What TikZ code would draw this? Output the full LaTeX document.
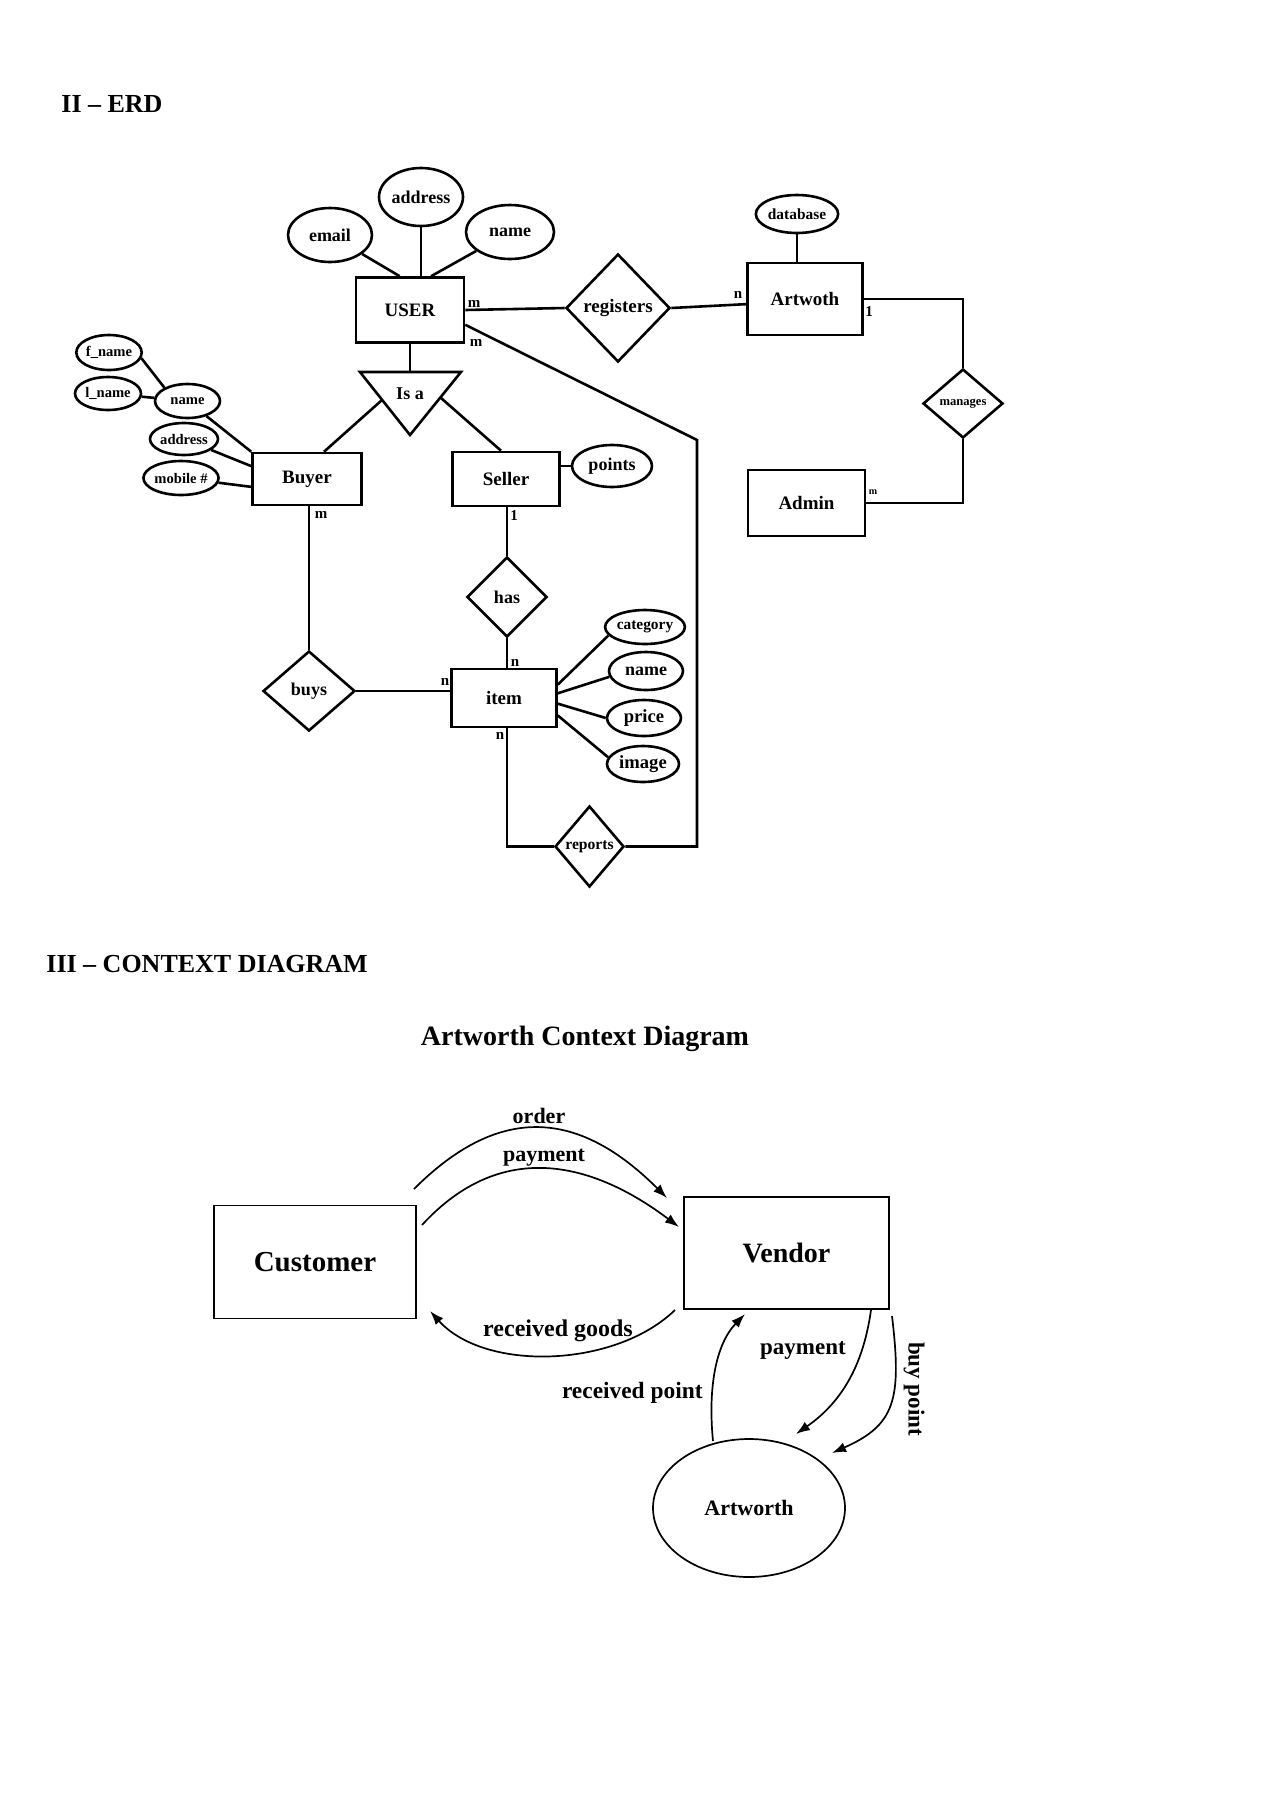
\documentclass[tikz,border=0pt]{standalone}
\usepackage{fontspec}
\setmainfont{Liberation Serif}
\usetikzlibrary{shapes.geometric,arrows.meta,calc}
\newcommand{\myfs}[1]{\fontsize{#1}{#1}\selectfont\bfseries}
\begin{document}
\begin{tikzpicture}[x=0.5pt,y=-0.5pt,
  erd/.style={line width=1.3pt},
  ent/.style={draw, erd, rectangle, inner sep=0pt, font={\myfs{9.5}}},
  attr/.style={draw, erd, ellipse, inner sep=0pt},
  rel/.style={draw, erd, diamond, inner sep=0pt},
  card/.style={inner sep=0pt, font={\myfs{7.5}}},
  ctx/.style={line width=0.85pt},
  flow/.style={ctx, -{Latex[length=7pt,width=5pt]}},
  lbl/.style={inner sep=0pt},
]
\useasboundingbox (0,0) rectangle (1272,1800);

% headings
\node[lbl, anchor=west, font={\myfs{13}}] (h1) at (61,104) {II – ERD};
\node[lbl, anchor=west, font={\myfs{13}}] (h2) at (46,964) {III – CONTEXT DIAGRAM};
\node[lbl, font={\myfs{14}}] (h3) at (585,1039) {Artworth Context Diagram};

% ---------------- ERD ----------------
\node[ent, minimum width=54pt, minimum height=32.5pt] (USER) at (410,310) {USER};
\node[attr, minimum width=42pt, minimum height=27pt, font={\myfs{9}}] (email) at (330,235) {email};
\node[attr, minimum width=42pt, minimum height=29pt, font={\myfs{9}}] (uaddr) at (421,197) {address};
\node[attr, minimum width=44pt, minimum height=27pt, font={\myfs{9}}] (uname) at (510,232) {name};

\coordinate (isaA) at (360,372);
\coordinate (isaB) at (461,372);
\coordinate (isaC) at (410,435);
\coordinate (isaTop) at (410,372);
\coordinate (isaL) at (382,400);
\coordinate (isaR) at (441,398);
\draw[erd] (isaA) -- (isaB) -- (isaC) -- cycle;
\node[lbl, font={\myfs{9}}] (isa) at (410,394) {Is a};

\node[ent, minimum width=54.5pt, minimum height=26pt] (Buyer) at (307,479) {Buyer};
\node[ent, minimum width=53.5pt, minimum height=27pt] (Seller) at (506,479) {Seller};
\node[attr, minimum width=40pt, minimum height=21pt, font={\myfs{9}}] (points) at (612,466) {points};

\node[attr, minimum width=31pt, minimum height=17.5pt, font={\myfs{7.3}}] (fname) at (109,352.5) {f\_name};
\node[attr, minimum width=33pt, minimum height=16.5pt, font={\myfs{7.3}}] (lname) at (108,393.5) {l\_name};
\node[attr, minimum width=32.5pt, minimum height=17pt, font={\myfs{7.3}}] (bname) at (187.5,401) {name};
\node[attr, minimum width=34pt, minimum height=16pt, font={\myfs{7.3}}] (baddr) at (184,439) {address};
\node[attr, minimum width=34pt, minimum height=17pt, font={\myfs{7.3}}] (mobile) at (181,478) {mobile \#};

\node[rel, minimum width=52pt, minimum height=54pt, font={\myfs{9.5}}] (registers) at (618,308) {registers};
\node[rel, minimum width=40pt, minimum height=40pt, font={\myfs{9}}] (has) at (507,597) {has};
\node[rel, minimum width=46pt, minimum height=40pt, font={\myfs{9}}] (buys) at (309,691) {buys};
\node[rel, minimum width=34.5pt, minimum height=40.5pt, font={\myfs{7.8}}] (reports) at (589.5,846.5) {reports};
\node[rel, minimum width=40pt, minimum height=34.5pt, font={\myfs{6.3}}] (manages) at (963,403.5) {manages};

\node[ent, minimum width=52.5pt, minimum height=29pt] (item) at (504,698) {item};
\node[attr, minimum width=35pt, minimum height=17pt, font={\myfs{7.7}}] (category) at (645,627) {category};
\node[attr, minimum width=37pt, minimum height=19pt, font={\myfs{9}}] (iname) at (646,671) {name};
\node[attr, minimum width=37pt, minimum height=18pt, font={\myfs{9.3}}] (price) at (644,718) {price};
\node[attr, minimum width=36pt, minimum height=18pt, font={\myfs{9.3}}] (image) at (643,764) {image};

\node[ent, minimum width=57.5pt, minimum height=36pt] (Artwoth) at (805,299) {Artwoth};
\node[attr, minimum width=40pt, minimum height=19pt, font={\myfs{7.7}}] (database) at (797,214) {database};
\node[ent, minimum width=58.5pt, minimum height=33pt] (Admin) at (806.5,503) {Admin};

\coordinate (bend) at (697,440);

% ERD connectors
\draw[erd] (email) -- (USER.107);
\draw[erd] (uaddr) -- (uaddr |- USER.north);
\draw[erd] (uname) -- (USER.58);
\draw[erd] (USER.east) -- (registers.west);
\draw[erd] (registers.east) -- (Artwoth.185);
\draw[erd] (database) -- (database |- Artwoth.north);
\draw[erd] (Artwoth.east) -- (Artwoth.east -| manages.north) -- (manages.north);
\draw[erd] (manages.south) -- (manages.south |- Admin.east) -- (Admin.east);
\draw[erd] (USER.south) -- (isaTop);
\draw[erd] (isaL) -- (Buyer.58);
\draw[erd] (isaR) -- (Seller.100);
\draw[erd] (Seller.east |- points.west) -- (points.west);
\draw[erd] (fname.-10) -- (bname.150);
\draw[erd] (lname) -- (bname);
\draw[erd] (bname) -- (Buyer.north west);
\draw[erd] (baddr) -- (Buyer.167);
\draw[erd] (mobile) -- (Buyer.188);
\draw[erd] (Buyer.south -| buys.north) -- (buys.north);
\draw[erd] (Seller.south -| has.north) -- (has.north);
\draw[erd] (has.south) -- (has.south |- item.north);
\draw[erd] (buys.east) -- (buys.east -| item.west);
\draw[erd] (item.14) -- (category.193);
\draw[erd] (item.5) -- (iname.189);
\draw[erd] (item.-6) -- (price.180);
\draw[erd] (item.-18) -- (image.169);
\draw[erd] (has.south |- item.south) -- (has.south |- reports.west) -- (reports.west);
\draw[erd] (USER.-15) -- (bend) -- (bend |- reports.east) -- (reports.east);

% cardinalities
\node[card] (c1) at (474,304) {m};
\node[card] (c2) at (476,343) {m};
\node[card] (c3) at (738,295) {n};
\node[card] (c4) at (869,312) {1};
\node[card, font={\myfs{5}}] (c5) at (873,492) {m};
\node[card] (c6) at (321,515) {m};
\node[card] (c7) at (514,516) {1};
\node[card] (c8) at (515,663) {n};
\node[card] (c9) at (445,682) {n};
\node[card] (c10) at (500,736) {n};

% ---------------- Context diagram ----------------
\node[draw, ctx, minimum width=101pt, minimum height=56.5pt, font={\myfs{14.5}}] (Customer) at (315,1262) {Customer};
\node[draw, ctx, minimum width=102.5pt, minimum height=56pt, font={\myfs{14}}] (Vendor) at (786.5,1253) {Vendor};
\node[draw, ctx, ellipse, inner sep=0pt, minimum width=96pt, minimum height=69pt, font={\myfs{11}}] (Artworth) at (749,1508) {Artworth};

\coordinate (o1) at (414,1189);
\coordinate (o2) at (667,1198);
\coordinate (q1) at (422,1225);
\coordinate (q2) at (679,1227);
\coordinate (g1) at (675,1310);
\coordinate (g2) at (430,1311);
\coordinate (rp1) at (713,1441);
\coordinate (rp2) at (745,1314);
\coordinate (pa1) at (871,1310);
\coordinate (pa2) at (796,1434);
\coordinate (bp1) at (892,1316);
\coordinate (bp2) at (832,1453);

\draw[flow] (o1) .. controls (501,1102) and (580,1111) .. (o2);
\draw[flow] (q1) .. controls (500,1140) and (590,1160) .. (q2);
\draw[flow] (g1) .. controls (615,1368) and (485,1372) .. (g2);
\draw[flow] (rp1) .. controls (708,1390) and (715,1345) .. (rp2);
\draw[flow] (pa1) .. controls (864,1360) and (845,1400) .. (pa2);
\draw[flow] (bp1) .. controls (902,1400) and (895,1425) .. (bp2);

\node[lbl, font={\myfs{11}}] (lorder) at (539,1116) {order};
\node[lbl, font={\myfs{11}}] (lpay1) at (544,1158) {payment};
\node[lbl, font={\myfs{12}}] (lgoods) at (558,1331) {received goods};
\node[lbl, anchor=east, font={\myfs{11.7}}] (lpoint) at (703,1393) {received point};
\node[lbl, font={\myfs{11.5}}] (lpay2) at (803,1350) {payment};
\node[lbl, rotate=-90, font={\myfs{11.5}}] (lbuy) at (914,1389) {buy point};
\end{tikzpicture}
\end{document}
